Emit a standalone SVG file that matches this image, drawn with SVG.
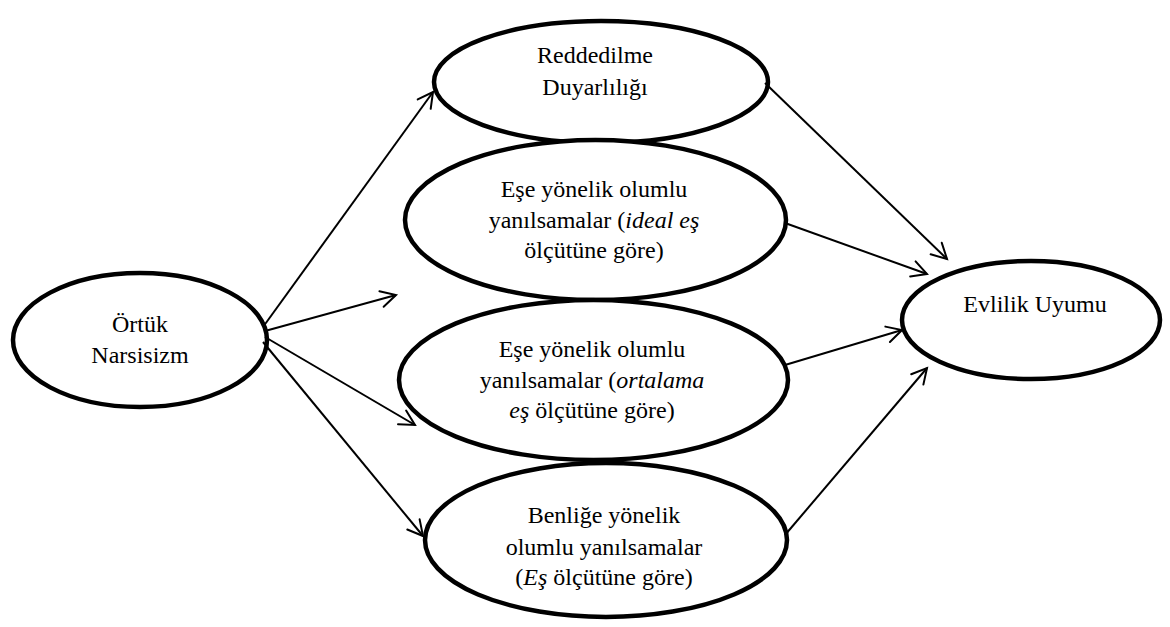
<svg xmlns="http://www.w3.org/2000/svg" width="1170" height="627" viewBox="0 0 1170 627">
  <style>
    .node { fill: #ffffff; stroke: #000000; stroke-width: 4.5; }
    .lbl { font-family: 'Liberation Serif', 'Times New Roman', Tinos, serif; font-size: 24px; fill: #000000; text-anchor: middle; }
    .it { font-style: italic; }
    .conn { stroke: #000000; stroke-width: 2; fill: none; marker-end: url(#arrow); }
  </style>
  <defs>
    <marker id="arrow" viewBox="-18 -10 20 20" refX="0" refY="0" markerWidth="20" markerHeight="20" markerUnits="userSpaceOnUse" orient="auto" overflow="visible">
      <path d="M-15,-8 L0,0 L-15,8" fill="none" stroke="#000000" stroke-width="2" stroke-linejoin="miter" stroke-linecap="round"/>
    </marker>
  </defs>
  <rect x="0" y="0" width="1170" height="627" fill="#ffffff"/>

  <g id="ortuk-narsisizm">
    <ellipse class="node" cx="140" cy="340" rx="127" ry="67"/>
    <text class="lbl" x="140" y="332">Örtük</text>
    <text class="lbl" x="140" y="363">Narsisizm</text>
  </g>

  <g id="reddedilme-duyarliligi">
    <ellipse class="node" cx="601" cy="82" rx="167" ry="61"/>
    <text class="lbl" x="595" y="63">Reddedilme</text>
    <text class="lbl" x="595" y="95">Duyarlılığı</text>
  </g>

  <g id="ese-ideal">
    <ellipse class="node" cx="595.5" cy="220" rx="190.5" ry="80"/>
    <text class="lbl" x="594" y="197">Eşe yönelik olumlu</text>
    <text class="lbl" x="594" y="228">yanılsamalar (<tspan class="it">ideal eş</tspan></text>
    <text class="lbl" x="594" y="258">ölçütüne göre)</text>
  </g>

  <g id="ese-ortalama">
    <ellipse class="node" cx="593.5" cy="380" rx="194.5" ry="80"/>
    <text class="lbl" x="592" y="357">Eşe yönelik olumlu</text>
    <text class="lbl" x="592" y="388">yanılsamalar (<tspan class="it">ortalama</tspan></text>
    <text class="lbl" x="592" y="418"><tspan class="it">eş</tspan> ölçütüne göre)</text>
  </g>

  <g id="benlige">
    <ellipse class="node" cx="606" cy="540" rx="181" ry="77"/>
    <text class="lbl" x="604" y="523">Benliğe yönelik</text>
    <text class="lbl" x="604" y="555">olumlu yanılsamalar</text>
    <text class="lbl" x="604" y="585">(<tspan class="it">Eş</tspan> ölçütüne göre)</text>
  </g>

  <g id="evlilik-uyumu">
    <ellipse class="node" cx="1031" cy="320" rx="129" ry="59"/>
    <text class="lbl" x="1035" y="312">Evlilik Uyumu</text>
  </g>

  <g id="connectors">
    <line class="conn" x1="263" y1="327" x2="433" y2="92"/>
    <line class="conn" x1="265" y1="331" x2="396" y2="295"/>
    <line class="conn" x1="265" y1="337" x2="415" y2="425"/>
    <line class="conn" x1="263" y1="342" x2="423" y2="536"/>
    <line class="conn" x1="765" y1="83" x2="947" y2="259"/>
    <line class="conn" x1="785" y1="223" x2="927" y2="274"/>
    <line class="conn" x1="785" y1="365" x2="902" y2="330"/>
    <line class="conn" x1="785" y1="535" x2="927" y2="368"/>
  </g>
</svg>
